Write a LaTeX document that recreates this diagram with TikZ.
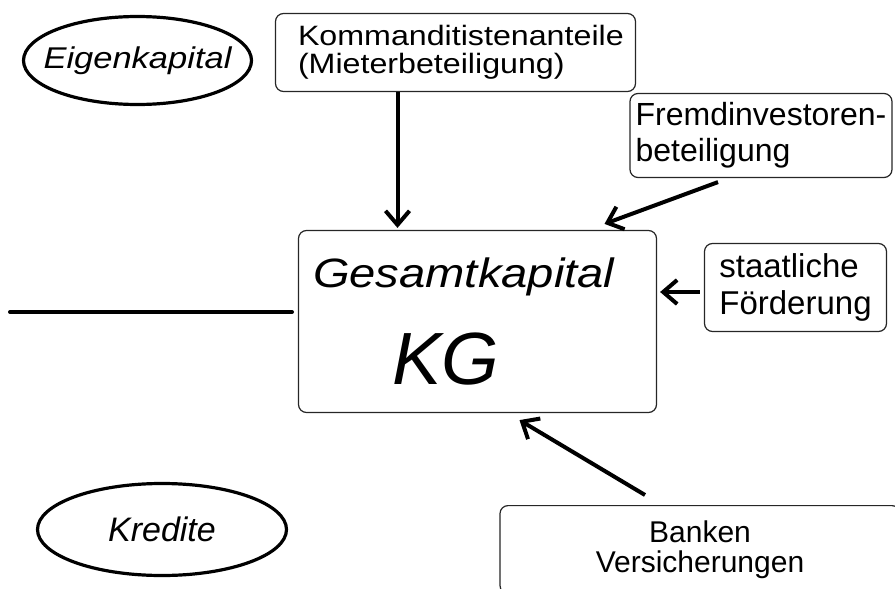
\documentclass[tikz,border=0pt]{standalone}
\usepackage{fontspec}
\setmainfont{Liberation Sans}
\newfontfamily\widesf[FakeStretch=1.15]{Liberation Sans}
\usetikzlibrary{arrows.meta, shapes.geometric}
\tikzset{
  >={Straight Barb[length=14pt, width=24pt]},
  box/.style={rectangle, rounded corners=8pt, draw=black!85, line width=1.2pt, inner sep=0pt},
  oval/.style={ellipse, draw=black, line width=3.2pt, inner sep=0pt},
  flow/.style={->, line width=4pt, draw=black},
  sepline/.style={line width=4pt, line cap=round},
}
\hfuzz=30pt
\begin{document}
\begin{tikzpicture}[x=1pt, y=-1pt]
  \path[use as bounding box, clip] (0,0) rectangle (895,589);
  \node[oval, minimum width=228pt, minimum height=88pt, inner xsep=-16pt, font=\widesf\itshape\fontsize{30}{31}\selectfont] (eig) at (137.5,60.5) {Eigenkapital};
  \node[oval, minimum width=249pt, minimum height=92pt, font=\itshape\fontsize{34}{34}\selectfont] (kred) at (162,529.5) {Kredite};
  \node[box, minimum width=358pt, minimum height=182pt, text width=329pt, align=left, font=\widesf\itshape\fontsize{41}{97}\selectfont] (gk) at (477.5,321.5) {Gesamtkapital\\\hspace*{79pt}{\normalfont\itshape\fontsize{74}{97}\selectfont KG}};
  \node[box, minimum width=360pt, minimum height=78pt, text width=315pt, align=left, font=\widesf\fontsize{28}{28}\selectfont] (komm) at (455.5,52.5) {Kommanditistenanteile\\(Mieterbeteiligung)};
  \node[box, minimum width=262pt, minimum height=84pt, inner xsep=3pt, align=left, font=\fontsize{32}{36}\selectfont] (fremd) at (761,135.5) {Fremdinvestoren-\\beteiligung};
  \node[box, minimum width=182pt, minimum height=88pt, align=left, font=\fontsize{33}{37}\selectfont] (staat) at (795.5,287.5) {staatliche\\Förderung};
  \node[box, minimum width=400pt, inner ysep=15pt, anchor=north, align=center, font=\fontsize{30}{30}\selectfont] (banken) at (700,505) {Banken\\Versicherungen};
  \coordinate (sepL) at (10,312);
  \coordinate (sepR) at (292,312);
  \draw[sepline] (sepL) -- (sepR);
  \draw[flow] ([xshift=-58pt]komm.south) -- ([xshift=-80pt,yshift=2pt]gk.north);
  \draw[flow] ([shift={(-43pt,-4pt)}]fremd.south) -- ([shift={(127pt,6pt)}]gk.north);
  \draw[flow] ([shift={(-4pt,-4.5pt)}]staat.west) -- ([shift={(3pt,29.5pt)}]gk.east);
  \draw[flow] ([shift={(-55pt,10pt)}]banken.north) -- ([shift={(42pt,-7pt)}]gk.south);
\end{tikzpicture}
\end{document}
